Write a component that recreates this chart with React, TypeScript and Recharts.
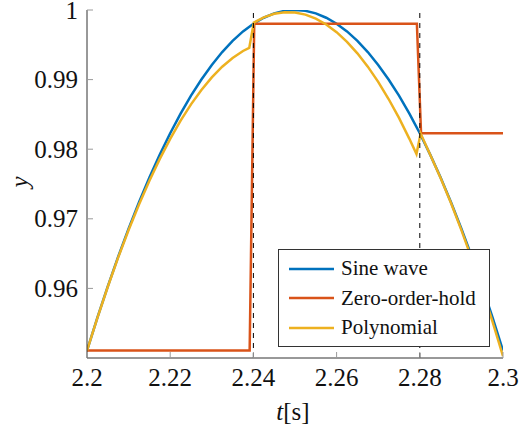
import React from 'react';
import { LineChart, Line, XAxis, YAxis, ReferenceLine, Legend } from 'recharts';

// Continuous sine wave, sampled every 2.5 ms
const sineTime = [
  2.2, 2.2025, 2.205, 2.2075, 2.21, 2.2125, 2.215, 2.2175, 2.22, 2.2225,
  2.225, 2.2275, 2.23, 2.2325, 2.235, 2.2375, 2.24, 2.2425, 2.245, 2.2475,
  2.25, 2.2525, 2.255, 2.2575, 2.26, 2.2625, 2.265, 2.2675, 2.27, 2.2725,
  2.275, 2.2775, 2.28, 2.2825, 2.285, 2.2875, 2.29, 2.2925, 2.295, 2.2975, 2.3,
];
const sineValues = [
  0.95106, 0.95579, 0.96029, 0.96456, 0.96858, 0.97237, 0.97592, 0.97922, 0.98229, 0.98511,
  0.98769, 0.99002, 0.99211, 0.99396, 0.99556, 0.99692, 0.99803, 0.99889, 0.99951, 0.99988,
  1.0, 0.99988, 0.99951, 0.99889, 0.99803, 0.99692, 0.99556, 0.99396, 0.99211, 0.99002,
  0.98769, 0.98511, 0.98229, 0.97922, 0.97592, 0.97237, 0.96858, 0.96456, 0.96029, 0.95579, 0.95106,
];

// Zero-order-hold reconstruction (samples every 40 ms)
const zohTime = [2.2, 2.2391, 2.2402, 2.2793, 2.2803, 2.3];
const zohValues = [0.95106, 0.95106, 0.99803, 0.99803, 0.98229, 0.98229];

// Polynomial extrapolation between samples
const polyTime = [
  2.2, 2.2025, 2.205, 2.2075, 2.21, 2.2125, 2.215, 2.2175, 2.22, 2.2225,
  2.225, 2.2275, 2.23, 2.2325, 2.235, 2.2375, 2.239,
  2.2401, 2.2425, 2.245, 2.2475, 2.25, 2.2525, 2.255, 2.2575, 2.26, 2.2625,
  2.265, 2.2675, 2.27, 2.2725, 2.275, 2.2775, 2.2792,
  2.2802, 2.2825, 2.285, 2.2875, 2.29, 2.2925, 2.295, 2.2975, 2.3,
];
const polyValues = [
  0.95106, 0.95578, 0.96024, 0.96445, 0.96838, 0.97206, 0.97547, 0.97861, 0.98149, 0.9841,
  0.98644, 0.98851, 0.99031, 0.99185, 0.99311, 0.99411, 0.99455,
  0.9982, 0.99895, 0.99945, 0.99968, 0.99965, 0.99934, 0.99876, 0.99792, 0.99681, 0.99543,
  0.99378, 0.99186, 0.98967, 0.98721, 0.98449, 0.98149, 0.9793,
  0.98225, 0.97921, 0.97587, 0.97226, 0.96838, 0.96425, 0.95984, 0.95518, 0.95026,
];

const xTicks = [2.2, 2.22, 2.24, 2.26, 2.28, 2.3];
const yTicks = [0.96, 0.97, 0.98, 0.99, 1];
const sampleInstants = [2.24, 2.28];

const seriesNames = ['Sine wave', 'Zero-order-hold', 'Polynomial'];
const seriesColors = ['#0072BD', '#D95319', '#EDB120'];

const zip = (ts: number[], vs: number[]) => ts.map((t, i) => ({ t, y: vs[i] }));
const sineData = zip(sineTime, sineValues);
const zohData = zip(zohTime, zohValues);
const polyData = zip(polyTime, polyValues);

const FONT = 'Tinos, "Times New Roman", "Liberation Serif", "DejaVu Serif", "Noto Serif", FreeSerif, Times, serif';
const TICK_COLOR = '#9a9a9a';
const AXIS_COLOR = '#333';

const BottomTick = (props: any) => {
  const { x, y, payload } = props;
  return (
    <g>
      <line x1={x} x2={x} y1={y} y2={y - 6} stroke={TICK_COLOR} strokeWidth={1} />
      <text x={x} y={y + 28} textAnchor="middle" fontSize={25} style={{ fontFamily: FONT }} fill="#111">
        {payload.value}
      </text>
    </g>
  );
};

const TopTick = (props: any) => {
  const { x, y } = props;
  return <line x1={x} x2={x} y1={y} y2={y + 6} stroke={TICK_COLOR} strokeWidth={1} />;
};

const LeftTick = (props: any) => {
  const { x, y, payload } = props;
  return (
    <g>
      <line x1={x} x2={x + 6} y1={y} y2={y} stroke={TICK_COLOR} strokeWidth={1} />
      <text x={x - 9} y={y + 8.5} textAnchor="end" fontSize={25} style={{ fontFamily: FONT }} fill="#111">
        {payload.value}
      </text>
    </g>
  );
};

const RightTick = (props: any) => {
  const { x, y } = props;
  return <line x1={x} x2={x - 6} y1={y} y2={y} stroke={TICK_COLOR} strokeWidth={1} />;
};

const XTitle = (props: any) => {
  const vb = props.viewBox || { x: 0, y: 0, width: 0, height: 0 };
  return (
    <text x={vb.x + vb.width / 2 - 2} y={vb.y + 62} textAnchor="middle" fontSize={25} style={{ fontFamily: FONT }} fill="#111">
      <tspan fontStyle="italic">t</tspan>
      <tspan>[s]</tspan>
    </text>
  );
};

const YTitle = (props: any) => {
  const vb = props.viewBox || { x: 0, y: 0, width: 0, height: 0 };
  const cx = 28;
  const cy = vb.y + vb.height / 2 - 2;
  return (
    <text
      x={cx}
      y={cy}
      transform={`rotate(-90 ${cx} ${cy})`}
      textAnchor="middle"
      fontSize={25}
      fontStyle="italic"
      style={{ fontFamily: FONT }}
      fill="#111"
    >
      y
    </text>
  );
};

// Legend entries come straight from the series definitions so the order stays fixed
const LegendBox = () => (
  <div
    style={{
      width: 212,
      height: 98,
      boxSizing: 'border-box',
      border: `1px solid ${AXIS_COLOR}`,
      background: '#fff',
      paddingTop: 4,
      fontFamily: FONT,
      fontSize: 21,
      color: '#111',
    }}
  >
    {seriesNames.map((name, i) => (
      <div key={name} style={{ display: 'flex', alignItems: 'center', height: 29.5 }}>
        <svg width={62} height={10} style={{ flex: 'none' }}>
          <line x1={10} x2={55} y1={5} y2={5} stroke={seriesColors[i]} strokeWidth={2.5} />
        </svg>
        <span style={{ whiteSpace: 'nowrap', lineHeight: '29.5px' }}>{name}</span>
      </div>
    ))}
  </div>
);

export default function App() {
  return (
    <div style={{ position: 'absolute', left: 0, top: 0, width: 526, height: 434, background: '#fff' }}>
      <LineChart width={526} height={434} margin={{ top: 10, right: 23, bottom: 26, left: 0 }}>
        <XAxis
          xAxisId="bottom"
          dataKey="t"
          type="number"
          domain={[2.2, 2.3]}
          ticks={xTicks}
          interval={0}
          allowDataOverflow
          height={50}
          tickSize={0}
          tickMargin={0}
          tickLine={false}
          axisLine={{ stroke: AXIS_COLOR, strokeWidth: 1 }}
          tick={<BottomTick />}
          label={<XTitle />}
        />
        <XAxis
          xAxisId="top"
          orientation="top"
          dataKey="t"
          type="number"
          domain={[2.2, 2.3]}
          ticks={xTicks}
          interval={0}
          allowDataOverflow
          height={0}
          tickSize={0}
          tickMargin={0}
          tickLine={false}
          axisLine={{ stroke: AXIS_COLOR, strokeWidth: 1 }}
          tick={<TopTick />}
        />
        <YAxis
          yAxisId="left"
          type="number"
          domain={[0.95, 1]}
          ticks={yTicks}
          interval={0}
          allowDataOverflow
          width={87}
          tickSize={0}
          tickMargin={0}
          tickLine={false}
          axisLine={{ stroke: AXIS_COLOR, strokeWidth: 1 }}
          tick={<LeftTick />}
          label={<YTitle />}
        />
        <YAxis
          yAxisId="right"
          orientation="right"
          type="number"
          domain={[0.95, 1]}
          ticks={yTicks}
          interval={0}
          allowDataOverflow
          width={0}
          tickSize={0}
          tickMargin={0}
          tickLine={false}
          axisLine={{ stroke: AXIS_COLOR, strokeWidth: 1 }}
          tick={<RightTick />}
        />
        <Line
          xAxisId="bottom"
          yAxisId="left"
          data={sineData}
          dataKey="y"
          name={seriesNames[0]}
          stroke={seriesColors[0]}
          strokeWidth={2.5}
          dot={false}
          type="linear"
          isAnimationActive={false}
        />
        <Line
          xAxisId="bottom"
          yAxisId="left"
          data={zohData}
          dataKey="y"
          name={seriesNames[1]}
          stroke={seriesColors[1]}
          strokeWidth={2.5}
          dot={false}
          type="linear"
          isAnimationActive={false}
        />
        <Line
          xAxisId="bottom"
          yAxisId="left"
          data={polyData}
          dataKey="y"
          name={seriesNames[2]}
          stroke={seriesColors[2]}
          strokeWidth={2.5}
          dot={false}
          type="linear"
          isAnimationActive={false}
        />
        {sampleInstants.map((s) => (
          <ReferenceLine
            key={s}
            xAxisId="bottom"
            yAxisId="left"
            x={s}
            stroke="#000"
            strokeWidth={1}
            strokeDasharray="5 5"
          />
        ))}
        <Legend
          layout="horizontal"
          verticalAlign="middle"
          align="center"
          content={<LegendBox />}
          wrapperStyle={{ left: 278, top: 249, width: 212, height: 98 }}
        />
      </LineChart>
    </div>
  );
}
